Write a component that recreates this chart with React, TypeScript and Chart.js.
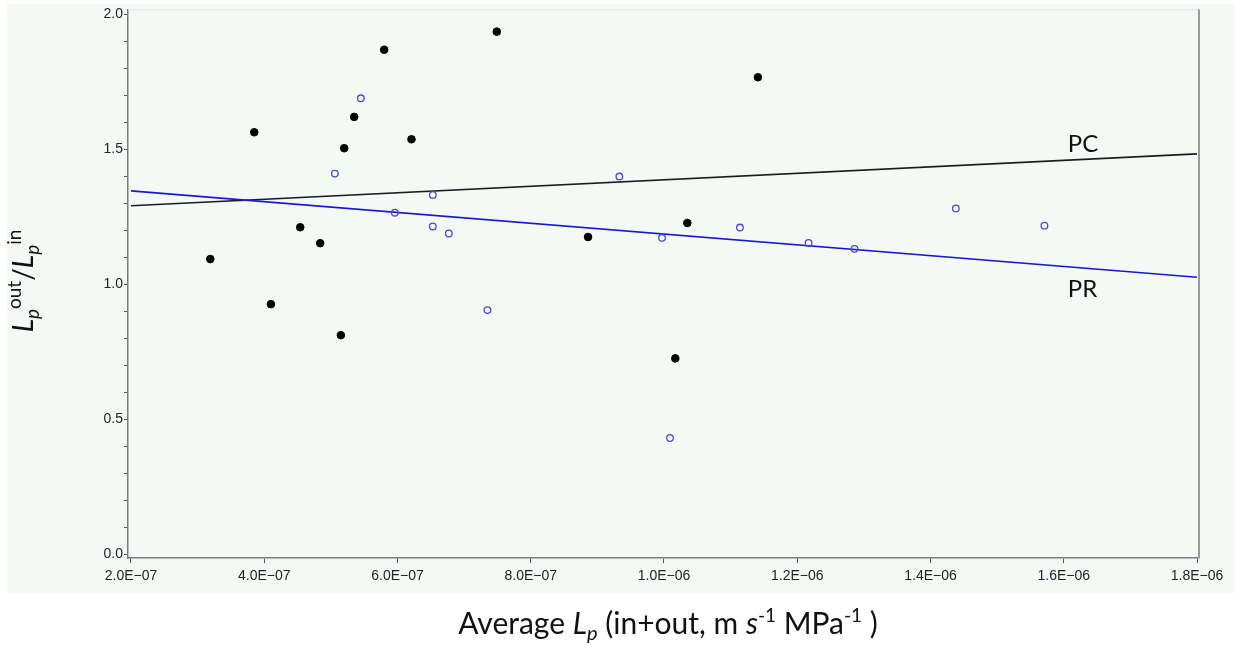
import React, { useEffect, useRef } from 'react';
import { Chart, registerables } from 'chart.js';

Chart.register(...registerables);

// PC (filled black dots)
const pcX = [3.19e-7, 3.85e-7, 4.10e-7, 4.54e-7, 4.84e-7, 5.15e-7, 5.20e-7, 5.35e-7, 5.80e-7, 6.21e-7, 7.49e-7, 8.86e-7, 1.017e-6, 1.035e-6, 1.141e-6];
const pcY = [1.093, 1.563, 0.926, 1.211, 1.152, 0.811, 1.504, 1.620, 1.869, 1.537, 1.936, 1.175, 0.725, 1.227, 1.767];
// PR (open blue circles)
const prX = [5.06e-7, 5.45e-7, 5.96e-7, 6.53e-7, 6.53e-7, 6.77e-7, 7.35e-7, 9.33e-7, 9.97e-7, 1.009e-6, 1.114e-6, 1.217e-6, 1.286e-6, 1.438e-6, 1.571e-6];
const prY = [1.410, 1.689, 1.265, 1.331, 1.214, 1.188, 0.904, 1.399, 1.172, 0.430, 1.210, 1.153, 1.131, 1.281, 1.217];
// regression lines
const fitX = [2.0e-7, 1.8e-6];
const pcFitY = [1.291, 1.483];
const prFitY = [1.346, 1.026];
// ticks
const xTicks = [2.0e-7, 4.0e-7, 6.0e-7, 8.0e-7, 1.0e-6, 1.2e-6, 1.4e-6, 1.6e-6, 1.8e-6];
const yTicks = [0, 0.1, 0.2, 0.3, 0.4, 0.5, 0.6, 0.7, 0.8, 0.9, 1.0, 1.1, 1.2, 1.3, 1.4, 1.5, 1.6, 1.7, 1.8, 1.9, 2.0];
const yLabelTicks = [0, 0.5, 1.0, 1.5, 2.0];
// line labels
const lineLabels = [
  { text: 'PC', x: 1.606e-6, y: 1.489 },
  { text: 'PR', x: 1.606e-6, y: 0.952 },
];

type Seg = { t: string; size: number; italic?: boolean; dy?: number };

const TITLE_FONT = 'Lato, "Open Sans", sans-serif';

const xTitle: Seg[] = [
  { t: 'Average ', size: 30 },
  { t: 'L', size: 30, italic: true },
  { t: 'p', size: 20, italic: true, dy: 6 },
  { t: ' (in+out, m ', size: 30 },
  { t: 's', size: 30, italic: true },
  { t: '-1', size: 19, dy: -12 },
  { t: ' MPa', size: 30 },
  { t: '-1', size: 19, dy: -12 },
  { t: ' )', size: 30 },
];

const yTitle: Seg[] = [
  { t: 'L', size: 28, italic: true },
  { t: 'p', size: 19, italic: true, dy: 6 },
  { t: 'out', size: 19, dy: -12 },
  { t: '/', size: 28 },
  { t: 'L', size: 28, italic: true },
  { t: 'p', size: 19, italic: true, dy: 6 },
  { t: 'in', size: 19, dy: -12 },
];

function fontOf(s: Seg) {
  return `${s.italic ? 'italic ' : ''}${s.size}px ${TITLE_FONT}`;
}

function drawRich(ctx: CanvasRenderingContext2D, segs: Seg[]) {
  let total = 0;
  for (const s of segs) {
    ctx.font = fontOf(s);
    total += ctx.measureText(s.t).width;
  }
  let x = -total / 2;
  for (const s of segs) {
    ctx.font = fontOf(s);
    ctx.fillText(s.t, x, s.dy || 0);
    x += ctx.measureText(s.t).width;
  }
}

function fmtSci(v: number) {
  const [m, e] = v.toExponential(1).split('e');
  const ex = parseInt(e, 10);
  return `${m}E${ex < 0 ? '\u2212' : '+'}${String(Math.abs(ex)).padStart(2, '0')}`;
}

const decorPlugin = {
  id: 'decor',
  beforeDraw(chart: any) {
    const ctx = chart.ctx as CanvasRenderingContext2D;
    ctx.save();
    ctx.fillStyle = '#ffffff';
    ctx.fillRect(0, 0, chart.width, chart.height);
    ctx.fillStyle = '#f5f9f6';
    ctx.fillRect(7, 4, 1228, 589);
    ctx.restore();
  },
  afterDraw(chart: any) {
    const ctx = chart.ctx as CanvasRenderingContext2D;
    const a = chart.chartArea;
    const xs = chart.scales.x;
    const ys = chart.scales.y;
    ctx.save();
    // top and right frame
    ctx.strokeStyle = '#e2e6e3';
    ctx.lineWidth = 1;
    ctx.beginPath();
    ctx.moveTo(a.left, a.top + 0.5);
    ctx.lineTo(a.right, a.top + 0.5);
    ctx.stroke();
    ctx.strokeStyle = '#9a9a9a';
    ctx.lineWidth = 2;
    ctx.beginPath();
    ctx.moveTo(a.right, a.top);
    ctx.lineTo(a.right, a.bottom);
    ctx.stroke();

    // line labels
    ctx.fillStyle = '#111';
    ctx.font = `24px ${TITLE_FONT}`;
    ctx.textBaseline = 'alphabetic';
    ctx.textAlign = 'left';
    for (const l of lineLabels) {
      ctx.fillText(l.text, xs.getPixelForValue(l.x), ys.getPixelForValue(l.y));
    }

    // axis titles
    ctx.fillStyle = '#111';
    ctx.save();
    ctx.translate(668, 634);
    drawRich(ctx, xTitle);
    ctx.restore();

    ctx.save();
    ctx.translate(33, 281);
    ctx.rotate(-Math.PI / 2);
    drawRich(ctx, yTitle);
    ctx.restore();
    ctx.restore();
  },
};

export default function App() {
  const ref = useRef<HTMLCanvasElement | null>(null);

  useEffect(() => {
    document.body.style.margin = '0';
    const canvas = ref.current!;
    const tickFont = { family: '"Liberation Sans", Arial, sans-serif', size: 14 };
    const chart = new Chart(canvas, {
      type: 'scatter',
      data: {
        datasets: [
          {
            label: 'PC fit',
            data: fitX.map((x, i) => ({ x, y: pcFitY[i] })),
            showLine: true,
            borderColor: '#1c1c1c',
            borderWidth: 1.6,
            pointRadius: 0,
            order: 3,
          },
          {
            label: 'PR fit',
            data: fitX.map((x, i) => ({ x, y: prFitY[i] })),
            showLine: true,
            borderColor: '#1818d0',
            borderWidth: 1.6,
            pointRadius: 0,
            order: 2,
          },
          {
            label: 'PC',
            data: pcX.map((x, i) => ({ x, y: pcY[i] })),
            pointStyle: 'circle',
            pointRadius: 3.8,
            backgroundColor: '#000000',
            borderColor: '#000000',
            borderWidth: 1,
            order: 1,
          },
          {
            label: 'PR',
            data: prX.map((x, i) => ({ x, y: prY[i] })),
            pointStyle: 'circle',
            pointRadius: 3.3,
            backgroundColor: 'rgba(0,0,0,0)',
            borderColor: '#4a4ac8',
            borderWidth: 1.3,
            order: 0,
          },
        ],
      },
      options: {
        responsive: false,
        animation: false,
        devicePixelRatio: 1,
        layout: { padding: { left: 0, right: 40, top: 8, bottom: 0 } },
        plugins: {
          legend: { display: false },
          tooltip: { enabled: false },
          title: { display: false },
        },
        scales: {
          x: {
            type: 'linear',
            min: 1.955e-7,
            max: 1.803e-6,
            afterBuildTicks: (scale: any) => {
              scale.ticks = xTicks.map((v) => ({ value: v }));
            },
            afterFit: (scale: any) => {
              scale.height = 92;
            },
            border: { display: true, color: '#7a7a7a', width: 1.5 },
            grid: { display: true, drawOnChartArea: false, drawTicks: true, tickLength: 5, tickColor: '#555' },
            ticks: {
              autoSkip: false,
              maxRotation: 0,
              minRotation: 0,
              padding: 5,
              color: '#222',
              font: tickFont,
              callback: (v: any) => fmtSci(Number(v)),
            },
          },
          y: {
            type: 'linear',
            min: -0.0148,
            max: 2.0185,
            afterBuildTicks: (scale: any) => {
              scale.ticks = yTicks.map((v) => ({ value: v }));
            },
            afterFit: (scale: any) => {
              scale.width = 128;
            },
            border: { display: true, color: '#7a7a7a', width: 1.5 },
            grid: { display: true, drawOnChartArea: false, drawTicks: true, tickLength: 4, tickColor: '#555' },
            ticks: {
              autoSkip: false,
              padding: 1,
              color: '#222',
              font: tickFont,
              callback: (v: any) => {
                const n = Number(v);
                return yLabelTicks.some((t) => Math.abs(t - n) < 1e-9) ? n.toFixed(1) : '';
              },
            },
          },
        },
      },
      plugins: [decorPlugin],
    });
    return () => chart.destroy();
  }, []);

  return (
    <div style={{ width: 1239, height: 650 }}>
      <canvas ref={ref} width={1239} height={650} style={{ display: 'block', width: 1239, height: 650 }} />
    </div>
  );
}
